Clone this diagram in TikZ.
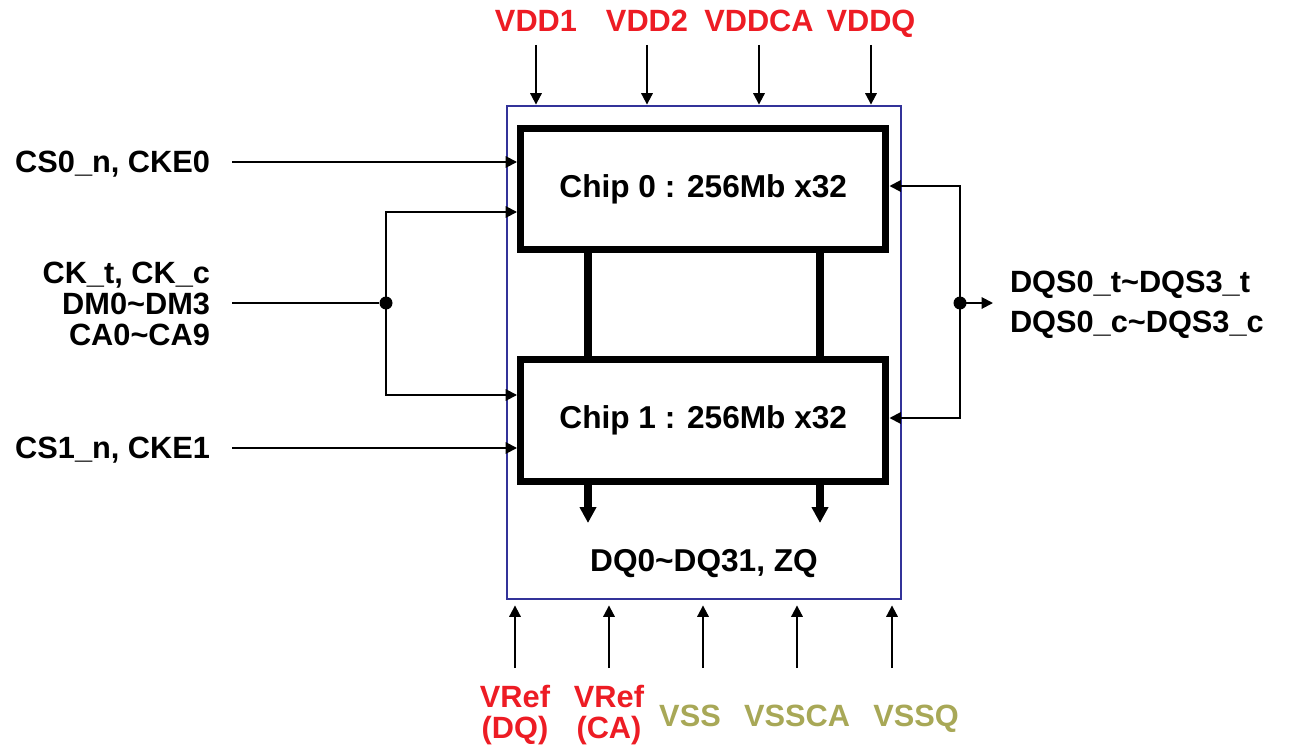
\documentclass[tikz,border=0pt]{standalone}
\usepackage{fontspec}
\setmainfont{Liberation Sans}
\usepackage{xcolor}
\usetikzlibrary{arrows.meta, positioning, calc}

\definecolor{pinred}{HTML}{ED1C24}
\definecolor{pingnd}{HTML}{A8A857}
\definecolor{pkgblue}{HTML}{333399}

\begin{document}
\begin{tikzpicture}[
    x=0.02cm, y=-0.02cm,
    lbl/.style={
        font=\fontsize{17.5}{17}\selectfont\bfseries,
        inner sep=0pt, outer sep=0pt
    },
    onelbl/.style={lbl, text height=12.5pt, text depth=0pt},
    pkg/.style={
        rectangle, draw=pkgblue, line width=1.1pt,
        minimum width=7.88cm, minimum height=9.88cm
    },
    chip/.style={
        rectangle, draw=black, line width=4pt, inner sep=0pt,
        minimum width=7.31cm, minimum height=2.43cm,
        font=\fontsize{18}{20}\selectfont\bfseries
    },
    sig/.style={-{Triangle[length=6.5pt, width=6.5pt]}, line width=1.1pt},
    wire/.style={line width=1.1pt},
    bar/.style={line width=4.3pt},
    bus/.style={-{Triangle[length=9pt, width=9pt]}, line width=4.3pt},
    dot/.style={circle, fill=black, inner sep=0pt, minimum size=0.26cm}
]
\useasboundingbox (0,0) rectangle (1296,754);

% Package and chips
\node[pkg] (pkg) at (704,352.5) {};
\node[chip] (chip0) at (703.25,189) {Chip 0 : 256Mb x32};
\node[chip] (chip1) at (703.25,420.5) {Chip 1 : 256Mb x32};

% Supplies on top
\node[onelbl, text=pinred, inner ysep=0.26cm] (vdd1) at (536,21) {VDD1};
\node[onelbl, text=pinred, inner ysep=0.26cm] (vdd2) at (647,21) {VDD2};
\node[onelbl, text=pinred, inner ysep=0.26cm] (vddca) at (759,21) {VDDCA};
\node[onelbl, text=pinred, inner ysep=0.26cm] (vddq) at (871,21) {VDDQ};
\foreach \p in {vdd1, vdd2, vddca, vddq}
    \draw[sig] (\p.south) -- (\p.south |- pkg.north);

% Inputs on the left
\node[onelbl, anchor=east, inner xsep=0.44cm] (cs0) at (232,162) {CS0\_n, CKE0};
\node[lbl, anchor=east, inner xsep=0.44cm, align=right,
      font=\fontsize{17.5}{17.8}\selectfont\bfseries] (ck) at (232,304)
    {CK\_t, CK\_c\\DM0\textasciitilde DM3\\CA0\textasciitilde CA9};
\node[onelbl, anchor=east, inner xsep=0.44cm] (cs1) at (232,448) {CS1\_n, CKE1};
\node[dot] (jl) at (386,303) {};

\draw[sig] (cs0.east) -- (cs0.east -| chip0.west);
\draw[sig] (cs1.east) -- (cs1.east -| chip1.west);
\draw[wire] (ck.east |- jl) -- (jl);
\draw[sig] (jl.center) |- (chip0.west |- 0,212);
\draw[sig] (jl.center) |- (chip1.west |- 0,395);

% Strobes on the right
\node[dot] (jr) at (960,303) {};
\node[lbl, anchor=west, inner xsep=0.34cm, align=left,
      font=\fontsize{17.5}{22.7}\selectfont\bfseries] (dqs) at (993,305)
    {DQS0\_t\textasciitilde DQS3\_t\\DQS0\_c\textasciitilde DQS3\_c};
\draw[sig] (jr.center) |- (chip0.east |- 0,186);
\draw[sig] (jr.center) |- (chip1.east |- 0,418);
\draw[sig] (jr.center) -- (dqs.west |- jr);

% Data bus
\coordinate (dqa) at (588,523);
\coordinate (dqb) at (820,523);
\draw[bar] (chip0.south -| dqa) -- (chip1.north -| dqa);
\draw[bar] (chip0.south -| dqb) -- (chip1.north -| dqb);
\draw[bus] (chip1.south -| dqa) -- (dqa);
\draw[bus] (chip1.south -| dqb) -- (dqb);
\node[onelbl, font=\fontsize{18}{20}\selectfont\bfseries] (dq) at (704,561) {DQ0\textasciitilde DQ31, ZQ};

% Reference and ground on the bottom
\node[lbl, text=pinred, align=center,
      font=\fontsize{17.5}{18}\selectfont\bfseries] (vrefdq) at (515,715) {VRef\\(DQ)};
\node[lbl, text=pinred, align=center,
      font=\fontsize{17.5}{18}\selectfont\bfseries] (vrefca) at (609,715) {VRef\\(CA)};
\node[onelbl, text=pingnd] (vss) at (690,716) {VSS};
\node[onelbl, text=pingnd] (vssca) at (797,716) {VSSCA};
\node[onelbl, text=pingnd] (vssq) at (916,716) {VSSQ};
\foreach \x [count=\i] in {515,609,703,797,892} {
    \coordinate (gnd\i) at (\x,668);
    \draw[sig, shorten >=0.1cm] (gnd\i) -- (gnd\i |- pkg.south);
}

\end{tikzpicture}
\end{document}
